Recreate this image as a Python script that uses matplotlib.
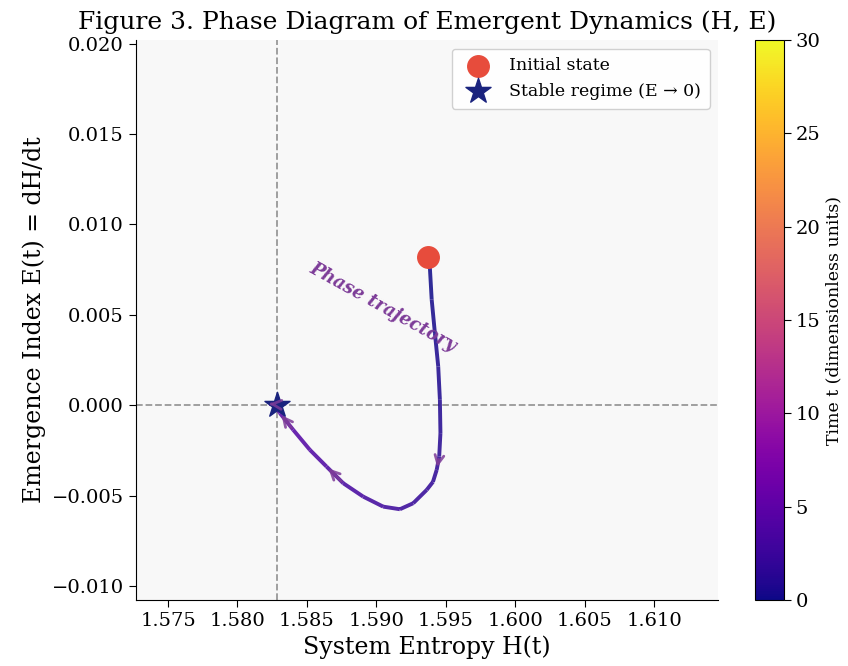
import numpy as np
import matplotlib
matplotlib.use("Agg")
import matplotlib.pyplot as plt
from matplotlib.collections import LineCollection
from matplotlib.colors import Normalize

plt.rcParams['font.family'] = 'DejaVu Serif'

# trajectory (time, entropy H, emergence index E)
time_t = [0.0, 0.1, 0.3, 0.5, 0.7, 0.9, 1.1, 1.3, 1.5, 1.7, 1.9, 2.2, 2.5, 2.8,
          3.1, 3.4, 3.7, 4.0, 4.3, 4.6, 5.0, 5.5, 6.5, 8.0, 10.0]
entropy_H = [1.59369, 1.59385, 1.59398, 1.59421, 1.59445, 1.59457, 1.59461, 1.59452,
             1.59434, 1.59407, 1.59362, 1.59265, 1.59169, 1.59049, 1.58905, 1.58761,
             1.58641, 1.58521, 1.58401, 1.58305, 1.58281, 1.58262, 1.58230, 1.58270,
             1.58282]
emergence_E = [0.008206, 0.007597, 0.005842, 0.003998, 0.002148, 0.000305, -0.001539,
               -0.002835, -0.003571, -0.004236, -0.004679, -0.005415, -0.005748,
               -0.005604, -0.005050, -0.004308, -0.003389, -0.002464, -0.001357,
               -0.000432, -0.000120, 0.000060, 0.000080, 0.000020, 0.000000]
arrow_idx = [8, 16, 19, 22]

t_max = 30
H_final = entropy_H[-1]
E_final = emergence_E[-1]
x_ticks = np.arange(1.575, 1.6101, 0.005)
y_ticks = np.arange(-0.010, 0.0201, 0.005)

fig = plt.figure(figsize=(8.48, 6.66), dpi=100)
ax = fig.add_axes([0.160, 0.099, 0.687, 0.841])
cax = fig.add_axes([0.890, 0.099, 0.034, 0.841])
ax.set_facecolor('#f8f8f8')

cmap = plt.get_cmap('plasma')
norm = Normalize(0, t_max)

pts = np.column_stack([entropy_H, emergence_E]).reshape(-1, 1, 2)
segs = np.concatenate([pts[:-1], pts[1:]], axis=1)
lc = LineCollection(segs, cmap=cmap, norm=norm, linewidth=2.8, alpha=0.85,
                    capstyle='butt', joinstyle='round', zorder=3)
lc.set_array(np.array(time_t[:-1]))
ax.add_collection(lc)

ax.axhline(0, color='gray', ls='--', lw=1.3, alpha=0.8, zorder=1)
ax.axvline(H_final, color='gray', ls='--', lw=1.3, alpha=0.8, zorder=1)

ax.scatter(entropy_H[0], emergence_E[0], s=240, color='#e74c3c', zorder=5,
           label='Initial state')
ax.scatter(H_final, E_final, s=360, marker='*', color='#1a237e', zorder=4,
           label='Stable regime (E → 0)')

for i in arrow_idx:
    ax.annotate('', xy=(entropy_H[i], emergence_E[i]),
                xytext=(entropy_H[i - 1], emergence_E[i - 1]),
                arrowprops=dict(arrowstyle='->', color='#7d3c98',
                                lw=2, mutation_scale=16, alpha=0.85), zorder=6)

ax.text(1.59047, 0.0054, 'Phase trajectory', rotation=-29, color='#7d3c98',
        fontsize=13, fontweight='bold', fontstyle='italic',
        ha='center', va='center')

ax.set_xlim(1.57267, 1.61461)
ax.set_ylim(-0.01077, 0.0202)
ax.set_xticks(x_ticks)
ax.set_yticks(y_ticks)
ax.set_xticklabels(['%.3f' % v for v in x_ticks])
ax.set_yticklabels([('%.3f' % v).replace('-', '\u2212') if abs(v) > 1e-9 else '0.000'
                    for v in y_ticks])
ax.tick_params(labelsize=14, length=5)
ax.spines['top'].set_visible(False)
ax.spines['right'].set_visible(False)

ax.set_xlabel('System Entropy H(t)', fontsize=17)
ax.set_ylabel('Emergence Index E(t) = dH/dt', fontsize=17)
ax.set_title('Figure 3. Phase Diagram of Emergent Dynamics (H, E)', fontsize=18, pad=8)

ax.legend(loc='upper right', fontsize=12.5, framealpha=0.9, borderpad=0.5)

sm = plt.cm.ScalarMappable(cmap=cmap, norm=norm)
cb = fig.colorbar(sm, cax=cax)
cb.set_label('Time t (dimensionless units)', fontsize=12.5)
cb.ax.tick_params(labelsize=14, length=5)

fig.savefig('out.png', dpi=100)
